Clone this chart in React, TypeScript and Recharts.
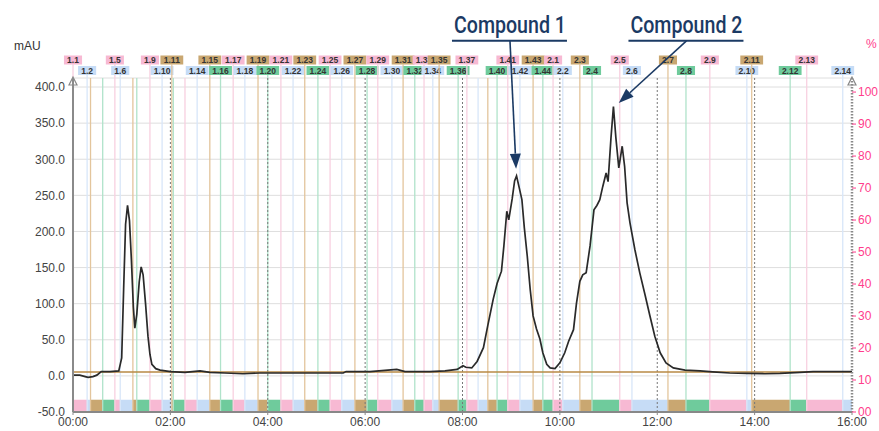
import React from 'react';
import { LineChart, Line, XAxis, YAxis, CartesianGrid, ReferenceLine, ReferenceArea } from 'recharts';

// chromatogram trace (time in minutes, absorbance in mAU)
const traceTimes = [
  0, 0.14, 0.25, 0.31, 0.41, 0.49, 0.58, 0.76, 0.94, 1.0, 1.04, 1.08, 1.12, 1.16, 1.2, 1.24, 1.27, 1.31, 1.36,
  1.4, 1.44, 1.49, 1.54, 1.58, 1.62, 1.7, 1.79, 2.0, 2.3, 2.61, 2.81, 3.12, 3.49, 3.84, 4.66, 5.55, 5.61, 6.1,
  6.65, 6.82, 7.33, 7.64, 7.89, 8.01, 8.07, 8.19, 8.3, 8.43, 8.52, 8.63, 8.71, 8.8, 8.85, 8.91, 8.95, 9.02, 9.07,
  9.11, 9.16, 9.22, 9.27, 9.33, 9.39, 9.45, 9.52, 9.59, 9.65, 9.73, 9.8, 9.9, 10.0, 10.1, 10.18, 10.28, 10.34,
  10.41, 10.47, 10.54, 10.62, 10.7, 10.76, 10.82, 10.88, 10.95, 10.99, 11.05, 11.1, 11.15, 11.21, 11.28, 11.33,
  11.38, 11.44, 11.54, 11.64, 11.75, 11.85, 11.95, 12.06, 12.18, 12.33, 12.57, 12.88, 13.14, 13.49, 13.84, 14.21,
  14.52, 14.93, 15.2, 15.55, 15.9, 16.0,
];
const traceMau = [
  1, 1, -1, -2, -1, 1, 6, 6, 7, 25, 120, 210, 236, 215, 160, 95, 66, 85, 130,
  151, 140, 100, 55, 30, 16, 10, 8, 6, 5, 7, 5, 4, 3, 4, 4, 4, 6, 6,
  9, 6, 6, 7, 9, 14, 12, 11, 20, 39, 70, 106, 128, 145, 180, 228, 216, 245, 270,
  277, 262, 244, 205, 166, 120, 83, 65, 51, 32, 16, 11, 10, 18, 32, 48, 64, 100,
  131, 140, 143, 180, 230, 236, 244, 262, 281, 269, 330, 373, 330, 288, 318, 290,
  240, 212, 175, 143, 112, 83, 55, 32, 18, 11, 8, 7, 5.5, 4, 3.5, 3,
  3.5, 5, 6, 6, 6, 6,
];

// solvent %B (right axis)
const gradientTimes = [0, 16];
const gradientPct = [12.5, 12.5];

// fraction / event markers
const eventNames = [
  '1.1', '1.2', '1.3', '1.4', '1.5', '1.6', '1.7', '1.8', '1.9', '1.10', '1.11', '1.12', '1.13', '1.14', '1.15',
  '1.16', '1.17', '1.18', '1.19', '1.20', '1.21', '1.22', '1.23', '1.24', '1.25', '1.26', '1.27', '1.28', '1.29',
  '1.30', '1.31', '1.32', '1.33', '1.34', '1.35', '1.36', '1.37', '1.38', '1.39', '1.40', '1.41', '1.42', '1.43',
  '1.44', '2.1', '2.2', '2.3', '2.4', '2.5', '2.6', '2.7', '2.8', '2.9', '2.10', '2.11', '2.12', '2.13', '2.14',
];
const eventTimes = [
  0.0, 0.29, 0.36, 0.61, 0.86, 0.97, 1.23, 1.31, 1.58, 1.83, 2.03, 2.06, 2.3, 2.55, 2.81,
  3.03, 3.29, 3.53, 3.8, 4.0, 4.27, 4.52, 4.76, 5.03, 5.28, 5.52, 5.79, 6.04, 6.26,
  6.55, 6.78, 7.02, 7.21, 7.39, 7.52, 7.91, 8.09, 8.32, 8.52, 8.71, 8.93, 9.18, 9.45,
  9.65, 9.86, 10.06, 10.41, 10.66, 11.23, 11.48, 12.22, 12.59, 13.08, 13.84, 13.94, 14.73, 15.07, 15.81,
];
const hiddenTags = ['1.3', '1.4', '1.7', '1.8', '1.12', '1.13', '1.38', '1.39'];

const leftTicks = [-50, 0, 50, 100, 150, 200, 250, 300, 350, 400];
const rightTicks = [0, 10, 20, 30, 40, 50, 60, 70, 80, 90, 100];
const timeTicks = [0, 2, 4, 6, 8, 10, 12, 14, 16];

const tagFill = ['#f7b9d3', '#c6dcf6', '#c9a771', '#6fcb9c'];
const lineTint = ['#f8d0e0', '#d8e6f9', '#e3c59c', '#b0e3ca'];
const navy = '#1b3a64';
const pink = '#ff3d8c';

const trace = traceTimes.map((t, i) => ({ t, v: traceMau[i] }));
const gradient = gradientTimes.map((t, i) => ({ t, b: gradientPct[i] }));
const events = eventNames.map((name, i) => {
  const n = Number(name.split('.')[1]);
  return { name, t: eventTimes[i], end: eventTimes[i + 1] ?? 16, color: (n - 1) % 4, row: n % 2 === 1 ? 0 : 1 };
});

const fmtTime = (v: number) => `${String(v).padStart(2, '0')}:00`;

function EventTag(props: any) {
  const { viewBox, name, color, row } = props;
  if (!viewBox) return null;
  const x = viewBox.x;
  const top = viewBox.y;
  const cy = row === 0 ? top - 18 : top - 7.5;
  const w = name.length * 4.7 + 4;
  return (
    <g>
      <line x1={x} y1={cy + 4.5} x2={x} y2={top} stroke={lineTint[color]} strokeWidth={1.3} />
      <rect x={x - w / 2} y={cy - 4.5} width={w} height={9} fill={tagFill[color]} />
      <text x={x} y={cy + 3} textAnchor="middle" fontSize={8.5} fontWeight="bold" fill="#333">
        {name}
      </text>
    </g>
  );
}

function Callout(props: any) {
  const { x1, y1, x2, y2, text } = props;
  const dx = x2 - x1;
  const dy = y2 - y1;
  const len = Math.hypot(dx, dy);
  const ux = dx / len;
  const uy = dy / len;
  const head = 15;
  const hw = 5.5;
  const bx = x2 - ux * head;
  const by = y2 - uy * head;
  const pts = `${x2},${y2} ${bx - uy * hw},${by + ux * hw} ${bx + uy * hw},${by - ux * hw}`;
  return (
    <g>
      <text
        x={x1}
        y={y1 - 8}
        textAnchor="middle"
        fontFamily="Roboto, sans-serif"
        fontWeight={500}
        fontSize={24}
        fill={navy}
        textLength={112}
        lengthAdjust="spacingAndGlyphs"
      >
        {text}
      </text>
      <line x1={x1 - 58} y1={y1} x2={x1 + 57} y2={y1} stroke={navy} strokeWidth={2} />
      <line x1={x1} y1={y1} x2={bx} y2={by} stroke={navy} strokeWidth={1.6} />
      <polygon points={pts} fill={navy} />
    </g>
  );
}

function AxisArrow(props: any) {
  const { x2, y2 } = props;
  const tip = Math.min(props.y1, y2) - 1;
  return (
    <polygon
      points={`${x2},${tip} ${x2 - 4},${tip + 8} ${x2 + 4},${tip + 8}`}
      fill="#fff"
      stroke="#888"
      strokeWidth={1.2}
    />
  );
}

export default function App() {
  return (
    <div style={{ width: 879, height: 431, fontFamily: '"Liberation Sans", Arial, sans-serif', position: 'relative' }}>
      <style>{'body{margin:0}'}</style>
      <div style={{ position: 'absolute', left: 14, top: 39, fontSize: 12, color: '#333' }}>mAU</div>
      <div style={{ position: 'absolute', left: 866, top: 37, fontSize: 12, color: pink }}>%</div>
      <LineChart width={879} height={431} margin={{ top: 78, right: 0, bottom: 0, left: 0 }}>
        <CartesianGrid yAxisId="left" vertical={false} stroke="#dedede" />
        <XAxis
          dataKey="t"
          type="number"
          domain={[0, 16]}
          ticks={timeTicks}
          tickFormatter={fmtTime}
          height={19}
          tick={{ fontSize: 12, fill: '#444' }}
          tickLine={{ stroke: '#888' }}
          tickSize={3}
          axisLine={{ stroke: '#888', strokeWidth: 2 }}
          allowDuplicatedCategory={false}
        />
        <YAxis
          yAxisId="left"
          orientation="left"
          width={73}
          domain={[-50, 412.5]}
          ticks={leftTicks}
          tickFormatter={(v: number) => v.toFixed(1)}
          tick={{ fontSize: 12, fill: '#444' }}
          tickLine={false}
          axisLine={{ stroke: '#8a8a8a', strokeWidth: 2 }}
        />
        <YAxis
          yAxisId="right"
          orientation="right"
          width={27}
          domain={[0, 104.4]}
          ticks={rightTicks}
          tickFormatter={(v: number) => (v === 0 ? '00' : String(v))}
          tick={{ fontSize: 12, fill: pink }}
          tickLine={{ stroke: pink }}
          tickSize={4}
          axisLine={{ stroke: '#8a8a8a', strokeWidth: 2.5, strokeDasharray: '1.5 1.5' }}
        />

        {events.map((e) => (
          <ReferenceLine
            key={`ev-${e.name}`}
            yAxisId="left"
            x={e.t}
            stroke={lineTint[e.color]}
            strokeWidth={1.3}
            ifOverflow="visible"
            label={
              hiddenTags.includes(e.name) ? undefined : <EventTag name={e.name} color={e.color} row={e.row} />
            }
          />
        ))}
        {timeTicks.slice(1, -1).map((t) => (
          <ReferenceLine key={`grid-${t}`} yAxisId="left" x={t} stroke="#777" strokeDasharray="2 2" />
        ))}
        {events.map((e) => (
          <ReferenceArea
            key={`strip-${e.name}`}
            yAxisId="left"
            x1={e.t}
            x2={e.end}
            y1={-50}
            y2={-33}
            fill={tagFill[e.color]}
            fillOpacity={1}
            stroke="none"
          />
        ))}

        <Line
          data={gradient}
          yAxisId="right"
          dataKey="b"
          type="linear"
          stroke="#b98a45"
          strokeWidth={1.6}
          dot={false}
          isAnimationActive={false}
        />
        <Line
          data={trace}
          yAxisId="left"
          dataKey="v"
          type="linear"
          stroke="#2a2a2a"
          strokeWidth={1.7}
          dot={false}
          isAnimationActive={false}
        />

        <ReferenceLine
          yAxisId="left"
          ifOverflow="visible"
          segment={[{ x: 0, y: -50 }, { x: 0, y: 412.5 }]}
          shape={(p: any) => <AxisArrow {...p} />}
        />
        <ReferenceLine
          yAxisId="left"
          ifOverflow="visible"
          segment={[{ x: 16, y: -50 }, { x: 16, y: 412.5 }]}
          shape={(p: any) => <AxisArrow {...p} />}
        />
        <ReferenceLine
          yAxisId="left"
          ifOverflow="visible"
          segment={[{ x: 8.975, y: 464 }, { x: 9.1, y: 287 }]}
          shape={(p: any) => <Callout {...p} text="Compound 1" />}
        />
        <ReferenceLine
          yAxisId="left"
          ifOverflow="visible"
          segment={[{ x: 12.6, y: 464 }, { x: 11.21, y: 378 }]}
          shape={(p: any) => <Callout {...p} text="Compound 2" />}
        />
      </LineChart>
    </div>
  );
}
